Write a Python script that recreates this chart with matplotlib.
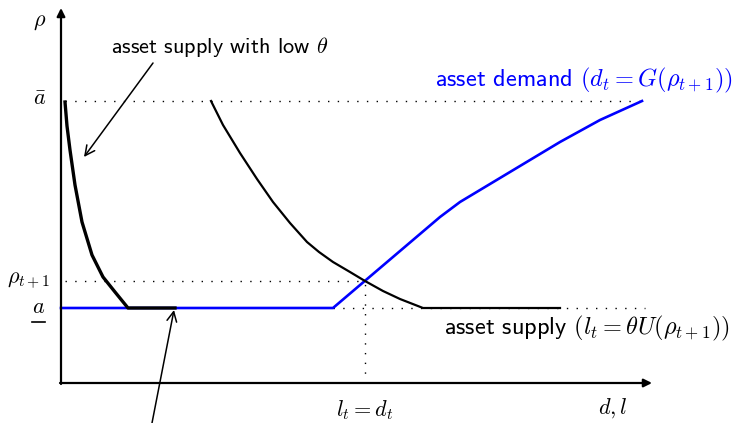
import matplotlib
matplotlib.use("Agg")
import matplotlib.pyplot as plt
import numpy as np

plt.rcParams['mathtext.fontset'] = 'cm'
plt.rcParams['font.family'] = ['cmss10', 'DejaVu Sans']
plt.rcParams['axes.unicode_minus'] = False

## data (x = quantity d,l ; y = price rho) ##

a_bar = 282
a_low = 75
rho_next = 102
l_eq = 304

low_supply_x = [4, 6, 9, 14, 21, 31, 42, 54, 67, 114]
low_supply_y = [281, 257, 233, 198, 161, 128, 106, 91, 75, 75]

supply_x = [150, 162, 179, 196, 212, 229, 246, 258, 272, 289, 304, 322, 339, 362, 499]
supply_y = [282, 258, 230, 204, 181, 160, 141, 131, 121, 111, 102, 92, 84, 75, 75]

demand_x = [0, 272, 379, 399, 419, 459, 499, 539, 581]
demand_y = [75, 75, 166, 181, 193, 217, 241, 263, 282]

## plot ##

fig = plt.figure(figsize=(7.37, 4.23), dpi=100)
ax = fig.add_axes([0, 0, 1, 1])
ax.set_xlim(-61, 676)
ax.set_ylim(-40, 383)
ax.axis('off')

# axes with arrows
ax.annotate('', xy=(591, 0), xytext=(-1, 0),
            arrowprops=dict(arrowstyle='-|>', lw=1.6, color='black',
                            mutation_scale=12, shrinkA=0, shrinkB=0))
ax.annotate('', xy=(0, 375), xytext=(0, -1),
            arrowprops=dict(arrowstyle='-|>', lw=1.6, color='black',
                            mutation_scale=12, shrinkA=0, shrinkB=0))

# dotted guides
dot = dict(color='black', lw=1.0, dashes=[1, 6])
ax.plot([4, 581], [a_bar, a_bar], **dot)
ax.plot([4, l_eq], [rho_next, rho_next], **dot)
ax.plot([272, 584], [a_low, a_low], **dot)
ax.plot([l_eq, l_eq], [0, rho_next], **dot)

# curves
ax.plot(demand_x, demand_y, color='blue', lw=1.9)
ax.plot(supply_x, supply_y, color='black', lw=1.6)
ax.plot(low_supply_x, low_supply_y, color='black', lw=2.4)

# labels
fs = 16
ax.text(-21, 361, r'$\rho$', fontsize=fs, ha='center', va='center')
ax.text(-21, a_bar + 2, r'$\bar{a}$', fontsize=fs, ha='center', va='center')
ax.text(-11, rho_next, r'$\rho_{t+1}$', fontsize=fs, ha='right', va='center')
ax.text(-22, a_low + 1, r'$a$', fontsize=fs, ha='center', va='center')
ax.plot([-29, -16], [61, 61], color='black', lw=1.2)
ax.text(l_eq, -27, r'$l_t = d_t$', fontsize=fs, ha='center', va='center')
ax.text(552, -25, r'$d, l$', fontsize=fs, ha='center', va='center')

ax.text(159, 336, r'asset supply with low $\theta$', fontsize=16,
        ha='center', va='center')
ax.text(672, 303, r'asset demand $(d_t = G(\rho_{t+1}))$', fontsize=17.5,
        ha='right', va='center', color='blue')
ax.text(669, 55, r'asset supply $(l_t = \theta U(\rho_{t+1}))$', fontsize=17.5,
        ha='right', va='center')

# pointer arrows
arr = dict(arrowstyle='->,head_length=0.5,head_width=0.25', lw=1.1,
           color='black', shrinkA=0, shrinkB=0, mutation_scale=14)
ax.annotate('', xy=(23, 226), xytext=(92, 320), arrowprops=arr)
ax.annotate('', xy=(113, 73), xytext=(91, -40), arrowprops=arr)

fig.savefig('out.png', dpi=100)
